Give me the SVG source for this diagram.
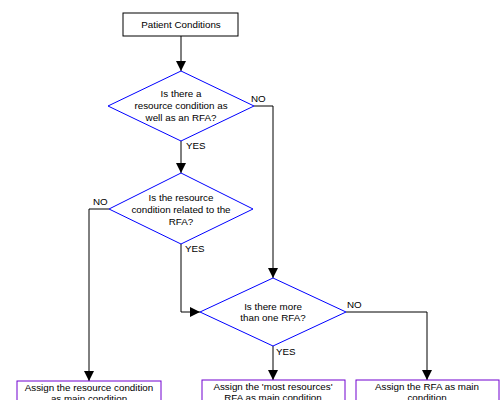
<svg xmlns="http://www.w3.org/2000/svg" width="502" height="400" viewBox="0 0 502 400">
<style>
text{font-family:"Liberation Sans",Arial,sans-serif;font-size:9.8px;fill:#000;text-anchor:middle}
.lbl{text-anchor:start}
.box{fill:#fff;stroke:#000;stroke-width:1}
.out{fill:#fff;stroke:#7000d0;stroke-width:1}
.dia{fill:#fff;stroke:#0000ff;stroke-width:1}
.con{fill:none;stroke:#000;stroke-width:1}
</style>
<defs>
<marker id="ah" viewBox="0 0 10 10" refX="10" refY="5" markerWidth="10" markerHeight="10" markerUnits="userSpaceOnUse" orient="auto">
<path d="M0,0 L10,5 L0,10 Z" fill="#000"/>
</marker>
</defs>
<rect width="502" height="400" fill="#fff"/>
<g id="connectors">
<path class="con" d="M181,36 V71" marker-end="url(#ah)"/>
<path class="con" d="M181,141 V173" marker-end="url(#ah)"/>
<path class="con" d="M254,106 H273 V278" marker-end="url(#ah)"/>
<path class="con" d="M109,209 H89 V381" marker-end="url(#ah)"/>
<path class="con" d="M181,244 V312 H200" marker-end="url(#ah)"/>
<path class="con" d="M346,312 H427 V380" marker-end="url(#ah)"/>
<path class="con" d="M273,346 V380" marker-end="url(#ah)"/>
<text class="lbl" x="251" y="102">NO</text>
<text class="lbl" x="186" y="149">YES</text>
<text class="lbl" x="93" y="205">NO</text>
<text class="lbl" x="185" y="252">YES</text>
<text class="lbl" x="347" y="308">NO</text>
<text class="lbl" x="276" y="355">YES</text>
</g>
<g id="n1">
<rect class="box" x="123" y="13" width="115" height="23"/>
<text x="181" y="27.5">Patient Conditions</text>
</g>
<g id="d1">
<polygon class="dia" points="181,71 254,106 181,141 108,106"/>
<text x="181" y="96.5">Is there a</text>
<text x="181" y="108.5">resource condition as</text>
<text x="181" y="120.5">well as an RFA?</text>
</g>
<g id="d2">
<polygon class="dia" points="181,173 253,209 181,244 109,209"/>
<text x="181" y="200.5">Is the resource</text>
<text x="181" y="212.5">condition related to the</text>
<text x="181" y="224.5">RFA?</text>
</g>
<g id="d3">
<polygon class="dia" points="273,278 346,312 273,346 200,312"/>
<text x="273" y="309.5">Is there more</text>
<text x="273" y="321">than one RFA?</text>
</g>
<g id="b1">
<rect class="out" x="17" y="381" width="144" height="30"/>
<text x="89" y="390.5">Assign the resource condition</text>
<text x="89" y="401.5">as main condition</text>
</g>
<g id="b2">
<rect class="out" x="202" y="380" width="143" height="30"/>
<text x="273" y="390">Assign the 'most resources'</text>
<text x="273" y="401">RFA as main condition</text>
</g>
<g id="b3">
<rect class="out" x="356" y="380" width="143" height="30"/>
<text x="427" y="390">Assign the RFA as main</text>
<text x="427" y="401">condition</text>
</g>
</svg>
